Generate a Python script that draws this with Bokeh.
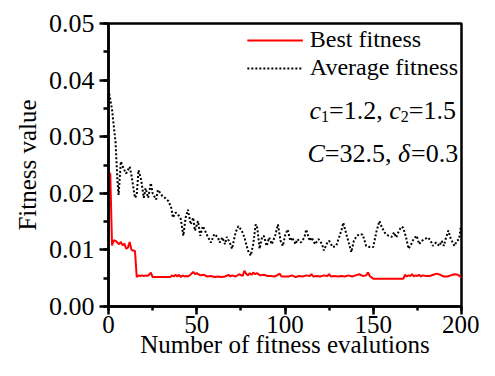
from bokeh.plotting import figure
from bokeh.models import Label, SingleIntervalTicker, NumeralTickFormatter, Range1d
from bokeh.embed import file_html
from bokeh.resources import INLINE

# ---------------- data ----------------
best_x = [0, 1, 2, 3, 4, 5, 6, 7, 8, 9, 10, 11, 12, 13, 14, 15, 16, 17, 18, 19, 20,
          21, 22, 23, 24, 25, 26, 30, 35, 36, 37, 38, 39, 40, 41, 42, 43, 44, 45, 46,
          47, 48, 49, 50, 52, 54, 56, 58, 60, 62, 64, 66, 68, 69, 70, 72, 74, 76, 77,
          78, 79, 80, 81, 82, 83, 84, 86, 88, 90, 92, 94, 96, 97, 98, 100, 102, 104,
          106, 108, 110, 112, 114, 115, 116, 118, 120, 122, 124, 125, 126, 128, 130,
          132, 134, 136, 138, 140, 142, 144, 146, 147, 148, 150, 152, 160, 167, 168,
          169, 170, 171, 172, 173, 174, 175, 176, 177, 178, 180, 182, 184, 186, 188,
          190, 192, 194, 196, 198, 200]
best_y = [0.0235, 0.0235, 0.0108, 0.0117, 0.0116, 0.0113, 0.0110, 0.0114, 0.0108,
          0.0111, 0.0102, 0.0104, 0.0114, 0.0100, 0.0099, 0.0098, 0.0052, 0.0055,
          0.0054, 0.0055, 0.0054, 0.0055, 0.0054, 0.0056, 0.0060, 0.0052, 0.0052,
          0.0052, 0.0052, 0.0055, 0.0053, 0.0056, 0.0053, 0.0056, 0.0052, 0.0055,
          0.0053, 0.0054, 0.0053, 0.0055, 0.0058, 0.0061, 0.0057, 0.0059, 0.0055,
          0.0056, 0.0053, 0.0054, 0.0052, 0.0053, 0.0052, 0.0053, 0.0056, 0.0053,
          0.0055, 0.0053, 0.0057, 0.0054, 0.0063, 0.0058, 0.0055, 0.0059, 0.0056,
          0.0060, 0.0057, 0.0059, 0.0055, 0.0056, 0.0054, 0.0054, 0.0053, 0.0056,
          0.0058, 0.0053, 0.0053, 0.0053, 0.0055, 0.0052, 0.0054, 0.0053, 0.0055,
          0.0054, 0.0057, 0.0053, 0.0054, 0.0053, 0.0055, 0.0054, 0.0057, 0.0053,
          0.0054, 0.0053, 0.0054, 0.0053, 0.0055, 0.0053, 0.0055, 0.0057, 0.0054,
          0.0055, 0.0060, 0.0054, 0.0049, 0.0049, 0.0049, 0.0049, 0.0056, 0.0053,
          0.0055, 0.0054, 0.0057, 0.0053, 0.0055, 0.0054, 0.0056, 0.0053, 0.0055,
          0.0054, 0.0054, 0.0056, 0.0058, 0.0056, 0.0053, 0.0053, 0.0055, 0.0057,
          0.0056, 0.0051]

avg_x = [0, 1, 2, 3, 4, 5, 5.7, 7, 8.5, 10, 12, 13, 15, 16, 17, 18.5, 20, 21, 22.5,
         24, 25, 27, 28, 29.5, 30.5, 32, 34, 35.6, 36.5, 38, 40, 41, 42.4, 43.7, 45,
         46.6, 48, 49, 50.7, 52, 53.4, 54.7, 56, 58, 60, 62, 63, 64.5, 66, 67, 68.7,
         70, 72, 73.6, 75.5, 77, 79, 80.6, 82, 83.4, 84.3, 85.6, 87, 88, 89.6, 91,
         92.5, 94.4, 96, 97.5, 98.8, 100, 101.5, 103, 104, 106, 107, 109, 111, 112,
         114, 115, 117, 119, 121, 122, 124, 125, 127, 129, 130.6, 132.4, 133, 135,
         136.6, 137.6, 139, 140.7, 142.5, 144, 146, 148, 150, 151.7, 153.5, 155, 157,
         158.7, 160.5, 161.8, 163, 164.6, 166, 167, 168.6, 170, 171.5, 172.8, 174.6,
         176, 177.4, 179, 181, 182.5, 183.8, 185.6, 187.5, 188.8, 190, 191, 192.5,
         194, 196, 197.4, 198.7, 199.5, 200]
avg_y = [0.0383, 0.0366, 0.0348, 0.0319, 0.0290, 0.0226, 0.0197, 0.0256, 0.0244,
         0.0235, 0.0247, 0.0232, 0.0192, 0.0197, 0.0241, 0.0224, 0.0192, 0.0209,
         0.0192, 0.0218, 0.0200, 0.0189, 0.0206, 0.0200, 0.0195, 0.0192, 0.0186,
         0.0174, 0.0157, 0.0166, 0.0160, 0.0154, 0.0125, 0.0157, 0.0171, 0.0145,
         0.0157, 0.0134, 0.0151, 0.0125, 0.0142, 0.0134, 0.0125, 0.0113, 0.0128,
         0.0122, 0.0113, 0.0122, 0.0110, 0.0123, 0.0113, 0.0102, 0.0131, 0.0142,
         0.0134, 0.0122, 0.0099, 0.0090, 0.0110, 0.0145, 0.0139, 0.0102, 0.0122,
         0.0125, 0.0107, 0.0122, 0.0110, 0.0125, 0.0145, 0.0116, 0.0107, 0.0125,
         0.0136, 0.0116, 0.0122, 0.0110, 0.0119, 0.0113, 0.0122, 0.0136, 0.0116,
         0.0122, 0.0110, 0.0119, 0.0110, 0.0099, 0.0113, 0.0116, 0.0105, 0.0107,
         0.0122, 0.0139, 0.0148, 0.0125, 0.0107, 0.0096, 0.0116, 0.0125, 0.0128,
         0.0127, 0.0107, 0.0105, 0.0105, 0.0131, 0.0151, 0.0139, 0.0128, 0.0125,
         0.0123, 0.0131, 0.0122, 0.0134, 0.0141, 0.0139, 0.0122, 0.0102, 0.0110,
         0.0119, 0.0125, 0.0110, 0.0116, 0.0119, 0.0122, 0.0116, 0.0107, 0.0113,
         0.0107, 0.0116, 0.0107, 0.0119, 0.0134, 0.0119, 0.0107, 0.0116, 0.0119,
         0.0139, 0.0134]

x_range = (0, 200)
y_range = (0, 0.05)
x_tick_step = 50
y_tick_step = 0.01
series_names = ["Best fitness", "Average fitness"]
x_title = "Number of fitness evalutions"
y_title = "Fitness value"

FONT = "Liberation Serif"

# layout (pixels)
W, H = 479, 360
B_LEFT, B_RIGHT, B_TOP = 108, 18, 23
FRAME_BOTTOM = 306  # expected from the axis sizes below

p = figure(width=W, height=H, output_backend="svg", toolbar_location=None,
           x_range=Range1d(*x_range), y_range=Range1d(*y_range),
           min_border_left=B_LEFT, min_border_right=B_RIGHT, min_border_top=B_TOP,
           min_border_bottom=0)
p.grid.visible = False
p.outline_line_color = "black"
p.outline_line_width = 2.5
p.outline_line_alpha = 1.0

p.line(best_x, best_y, line_color="#ff0000", line_width=2, legend_label=series_names[0])
p.line(avg_x, avg_y, line_color="black", line_width=2, line_dash="2 2",
       legend_label=series_names[1])

p.xaxis.ticker = SingleIntervalTicker(interval=x_tick_step, num_minor_ticks=2)
p.yaxis.ticker = SingleIntervalTicker(interval=y_tick_step, num_minor_ticks=2)
p.yaxis.formatter = NumeralTickFormatter(format="0.00")
p.xaxis.axis_label = x_title
p.yaxis.axis_label = y_title

for ax in p.axis:
    ax.axis_line_width = 2.5
    ax.axis_line_color = "black"
    ax.major_tick_line_width = 2.5
    ax.minor_tick_line_width = 2.5
    ax.major_tick_line_color = "black"
    ax.minor_tick_line_color = "black"
    ax.major_tick_in = 0
    ax.minor_tick_in = 0
    ax.major_label_text_font = FONT
    ax.major_label_text_font_size = "26px"
    ax.major_label_text_color = "black"
    ax.axis_label_text_font = FONT
    ax.axis_label_text_font_size = "25px"
    ax.axis_label_text_font_style = "normal"
    ax.axis_label_text_color = "black"

p.xaxis.major_label_text_font_size = "25px"
p.xaxis.major_tick_out = 8
p.xaxis.minor_tick_out = 4
p.xaxis.major_label_standoff = 1
p.xaxis.axis_label_standoff = -5
p.yaxis.major_tick_out = 9
p.yaxis.minor_tick_out = 5
p.yaxis.major_label_standoff = 5
p.yaxis.axis_label_standoff = 5

lg = p.legend[0]
lg.location = "top_right"
lg.border_line_color = None
lg.background_fill_alpha = 0
lg.label_text_font = FONT
lg.label_text_font_size = "24px"
lg.label_text_color = "black"
lg.glyph_width = 56
lg.glyph_height = 22
lg.label_height = 22
lg.label_standoff = 7
lg.spacing = 1
lg.padding = 0
lg.margin = 3

# --- parameter annotation (pieces laid out left to right, in pixels) ---
frame_w = W - B_LEFT - B_RIGHT
frame_h = FRAME_BOTTOM - B_TOP


def px_to_x(px):
    return x_range[0] + (px - B_LEFT) / frame_w * (x_range[1] - x_range[0])


def py_to_y(py):
    return y_range[0] + (FRAME_BOTTOM - py) / frame_h * (y_range[1] - y_range[0])


F = 26
SUB = 16


def put_pieces(pieces, start_px, base_py):
    """pieces: (text, width_em, size, italic, baseline_shift_px)"""
    xpx = start_px
    for text, wem, size, italic, dpy in pieces:
        if text.strip():
            p.add_layout(Label(x=px_to_x(xpx), y=py_to_y(base_py + dpy), text=text,
                               text_font=FONT, text_font_size=f"{size}px",
                               text_font_style="italic" if italic else "normal",
                               text_color="black", text_baseline="alphabetic",
                               text_align="left"))
        xpx += wem * size


line1 = [("c", 0.444, F, True, 0), ("1", 0.5, SUB, False, 6),
         ("=1.2,", 2.064, F, False, 0), (" ", 0.25, F, False, 0),
         ("c", 0.444, F, True, 0), ("2", 0.5, SUB, False, 6),
         ("=1.5", 1.814, F, False, 0)]
line2 = [("C", 0.667, F, True, 0), ("=32.5,", 2.564, F, False, 0),
         (" ", 0.25, F, False, 0), ("δ", 0.5, F, True, 0), ("=0.3", 1.814, F, False, 0)]

put_pieces(line1, 309, 110)
put_pieces(line2, 307, 153)

open("out.html", "w").write(file_html(p, INLINE))
